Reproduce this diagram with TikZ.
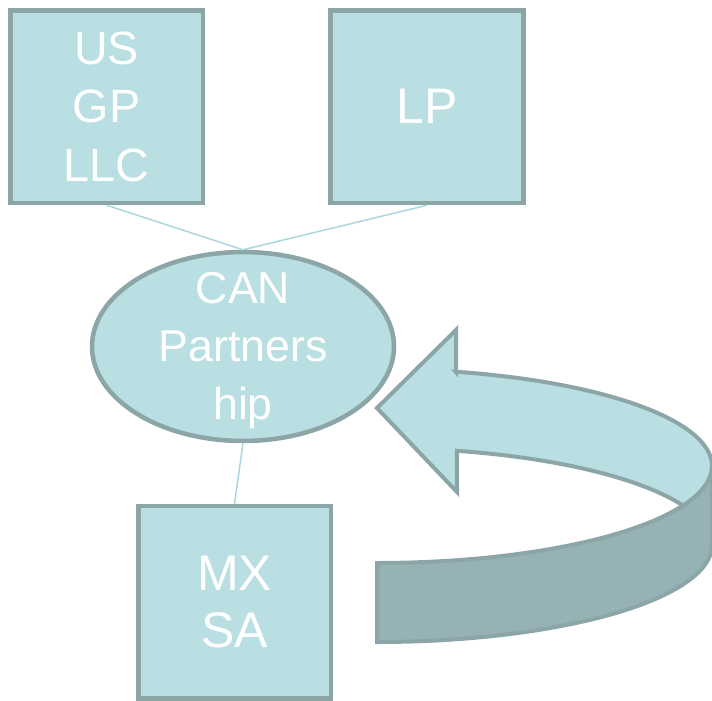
\documentclass[tikz,border=0pt]{standalone}
\usepackage{fontspec}
\setmainfont{Liberation Sans}
\usetikzlibrary{shapes.geometric}
\definecolor{boxfill}{HTML}{B9DFE2}
\definecolor{boxline}{HTML}{8CA6A8}
\definecolor{bandfill}{HTML}{96B2B5}
\definecolor{linkline}{HTML}{A9D7DB}
\begin{document}
\begin{tikzpicture}[x=0.75pt, y=-0.75pt,
  entity/.style={draw=boxline, fill=boxfill, line width=3.4pt, inner sep=0pt},
  firmbox/.style={entity, rectangle, minimum width=144.4pt, minimum height=144.4pt},
  firmtext/.style={text=white, align=center, font=\fontsize{35}{43.7}\selectfont},
  bigtext/.style={firmtext, font=\fontsize{37.5}{43}\selectfont},
  link/.style={draw=linkline, line width=1.1pt},
  arrowtop/.style={draw=boxline, fill=boxfill, line width=3pt},
  arrowside/.style={draw=boxline, fill=bandfill, line width=3pt}]
  \useasboundingbox (0,0) rectangle (712,700);
  \clip (0,0) rectangle (712,700);
  % owners
  \node[firmbox, firmtext] (usgp) at (106.7,106.7) {US\\GP\\LLC};
  \node[firmbox, bigtext] (lp) at (427,106.7) {LP};
  % partnership
  \node[entity, ellipse, minimum width=226.5pt, minimum height=141.7pt] (can) at (243,346.5) {};
  \node[firmtext, font=\fontsize{33.5}{43.5}\selectfont] (cantext) at (243,351) {CAN\\Partners\\hip};
  % subsidiary
  \node[firmbox, bigtext] (mx) at (234.5,602.3) {MX\\SA};
  % ownership lines
  \draw[link] (usgp.south) -- (can.north);
  \draw[link] (lp.south) -- (can.north);
  \draw[link] (can.south) -- (mx.north);
  % curved arrow, front band
  \filldraw[arrowside] plot[domain=90:0, samples=60] ({377+335*cos(\x)}, {466+97*sin(\x)})
    -- plot[domain=0:90, samples=60] ({377+335*cos(\x)}, {545+97*sin(\x)}) -- cycle;
  % curved arrow, top face and head
  \filldraw[arrowtop] (377,408) -- (456,330) -- (456,372)
    -- plot[domain=-76.4:24.1, samples=80] ({377+335*cos(\x)}, {466+97*sin(\x)})
    -- plot[domain=-24.1:-76.2, samples=50] ({377+335*cos(\x)}, {545+97*sin(\x)})
    -- (457,492) -- cycle;
\end{tikzpicture}
\end{document}
